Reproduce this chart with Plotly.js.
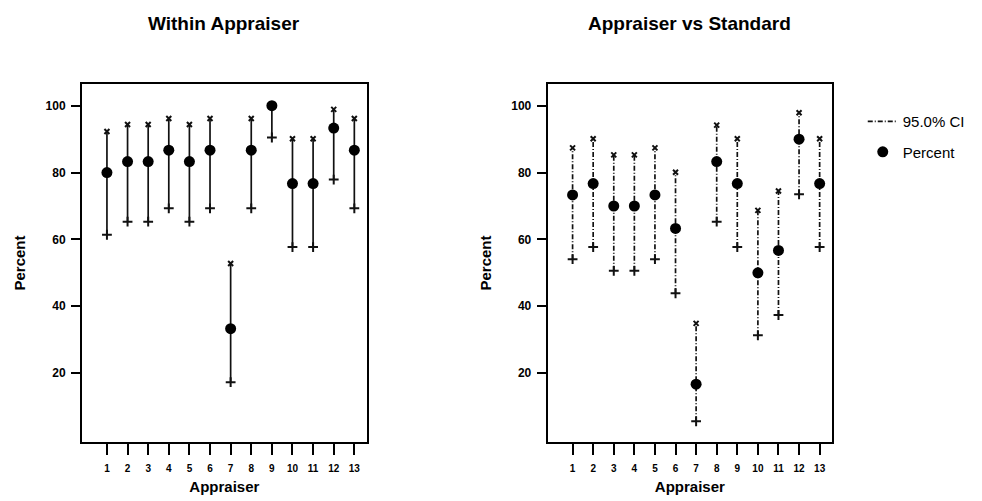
<!DOCTYPE html>
<html>
<head>
<meta charset="utf-8">
<script src="https://cdn.plot.ly/plotly-3.0.1.min.js"></script>
<style>html,body{margin:0;padding:0;background:#fff;}#chart{width:982px;height:501px;}</style>
</head>
<body>
<div id="chart"></div>
<script>
// ---- data ----
const appraisers = [1,2,3,4,5,6,7,8,9,10,11,12,13];
const tickLabels = ['1','2','3','4','5','6','7','8','9','10','11','12','13'];
const yTicks = [20,40,60,80,100];

const withinPct = [80.0, 83.3, 83.3, 86.7, 83.3, 86.7, 33.3, 86.7, 100.0, 76.7, 76.7, 93.3, 86.7];
const withinLo  = [61.4, 65.3, 65.3, 69.3, 65.3, 69.3, 17.3, 69.3, 90.5, 57.7, 57.7, 77.9, 69.3];
const withinHi  = [92.3, 94.4, 94.4, 96.2, 94.4, 96.2, 52.8, 96.2, 100.0, 90.1, 90.1, 98.9, 96.2];

const vsPct = [73.3, 76.7, 70.0, 70.0, 73.3, 63.3, 16.7, 83.3, 76.7, 50.0, 56.7, 90.0, 76.7];
const vsLo  = [54.1, 57.7, 50.6, 50.6, 54.1, 43.9, 5.6, 65.3, 57.7, 31.3, 37.4, 73.5, 57.7];
const vsHi  = [87.4, 90.1, 85.3, 85.3, 87.4, 80.1, 34.9, 94.2, 90.1, 68.7, 74.5, 97.9, 90.1];

const panelTitles = ['Within Appraiser', 'Appraiser vs Standard'];
const xTitle = 'Appraiser';
const yTitle = 'Percent';
const ciName = '95.0% CI';
const pctName = 'Percent';

// ---- build traces ----
const FONT = 'Arial, "Liberation Sans", sans-serif';
function segs(xs, lo, hi) {
  const x = [], y = [];
  xs.forEach((v, i) => { x.push(v, v, null); y.push(lo[i], hi[i], null); });
  return {x, y};
}
function panel(pct, lo, hi, xa, ya, dash, legend) {
  const s = segs(appraisers, lo, hi);
  return [
    {type:'scatter', mode:'lines', x:s.x, y:s.y, xaxis:xa, yaxis:ya,
     line:{color:'#111', width:1.7, dash:dash}, name:ciName, showlegend:legend,
     legendgroup:'ci', hoverinfo:'skip'},
    {type:'scatter', mode:'markers', x:appraisers, y:hi, xaxis:xa, yaxis:ya,
     marker:{symbol:'x-thin', size:5, color:'#111', line:{color:'#111', width:2}},
     showlegend:false, hoverinfo:'skip'},
    {type:'scatter', mode:'markers', x:appraisers, y:lo, xaxis:xa, yaxis:ya,
     marker:{symbol:'cross-thin', size:7, color:'#111', line:{color:'#111', width:2}},
     showlegend:false, hoverinfo:'skip'},
    {type:'scatter', mode:'markers', x:appraisers, y:pct, xaxis:xa, yaxis:ya,
     marker:{symbol:'circle', size:11, color:'#000'}, name:pctName, showlegend:legend,
     legendgroup:'pct'}
  ];
}
const data = [].concat(
  panel(withinPct, withinLo, withinHi, 'x', 'y', 'solid', false),
  panel(vsPct, vsLo, vsHi, 'x2', 'y2', '5px,2px,1px,2px', true)
);

function xAxis(domain, anchor) {
  return {domain:domain, anchor:anchor, range:[-0.21, 13.6], tickvals:appraisers, ticktext:tickLabels,
    showgrid:false, zeroline:false, showline:true, mirror:true, linecolor:'#000', linewidth:2,
    ticks:'outside', ticklen:11, tickwidth:2, tickcolor:'#000', ticklabelstandoff:5,
    tickfont:{family:FONT, size:10, color:'#000', weight:'bold'},
    title:{text:xTitle, font:{family:FONT, size:15, color:'#000', weight:'bold'}, standoff:8}};
}
function yAxis(anchor) {
  return {domain:[0,1], anchor:anchor, range:[-0.6, 106.5], tickvals:yTicks,
    showgrid:false, zeroline:false, showline:true, mirror:true, linecolor:'#000', linewidth:2,
    ticks:'outside', ticklen:9, tickwidth:2, tickcolor:'#000', ticklabelstandoff:3,
    tickfont:{family:FONT, size:12, color:'#000', weight:'bold'},
    title:{text:yTitle, font:{family:FONT, size:15, color:'#000', weight:'bold'}, standoff:16}};
}

const layout = {
  width:982, height:501,
  margin:{l:82, r:150, t:84, b:59},
  paper_bgcolor:'#fff', plot_bgcolor:'#fff',
  font:{family:FONT, color:'#000'},
  xaxis: xAxis([0, 0.3796], 'y'),
  yaxis: yAxis('x'),
  xaxis2: xAxis([0.6209, 1], 'y2'),
  yaxis2: yAxis('x2'),
  showlegend:true,
  legend:{x:1.041, xanchor:'left', y:0.941, yanchor:'top', bgcolor:'rgba(0,0,0,0)',
    font:{family:FONT, size:15, color:'#000'}, tracegroupgap:8, itemwidth:30},
  annotations:[
    {text:panelTitles[0], xref:'x domain', yref:'paper', x:0.5, y:(501-59-23)/358, yanchor:'middle',
     showarrow:false, font:{family:FONT, size:19, color:'#000', weight:'bold'}},
    {text:panelTitles[1], xref:'x2 domain', yref:'paper', x:0.5, y:(501-59-23)/358, yanchor:'middle',
     showarrow:false, font:{family:FONT, size:19, color:'#000', weight:'bold'}}
  ]
};

Plotly.newPlot('chart', data, layout, {displayModeBar:false, staticPlot:true});
</script>
</body>
</html>
